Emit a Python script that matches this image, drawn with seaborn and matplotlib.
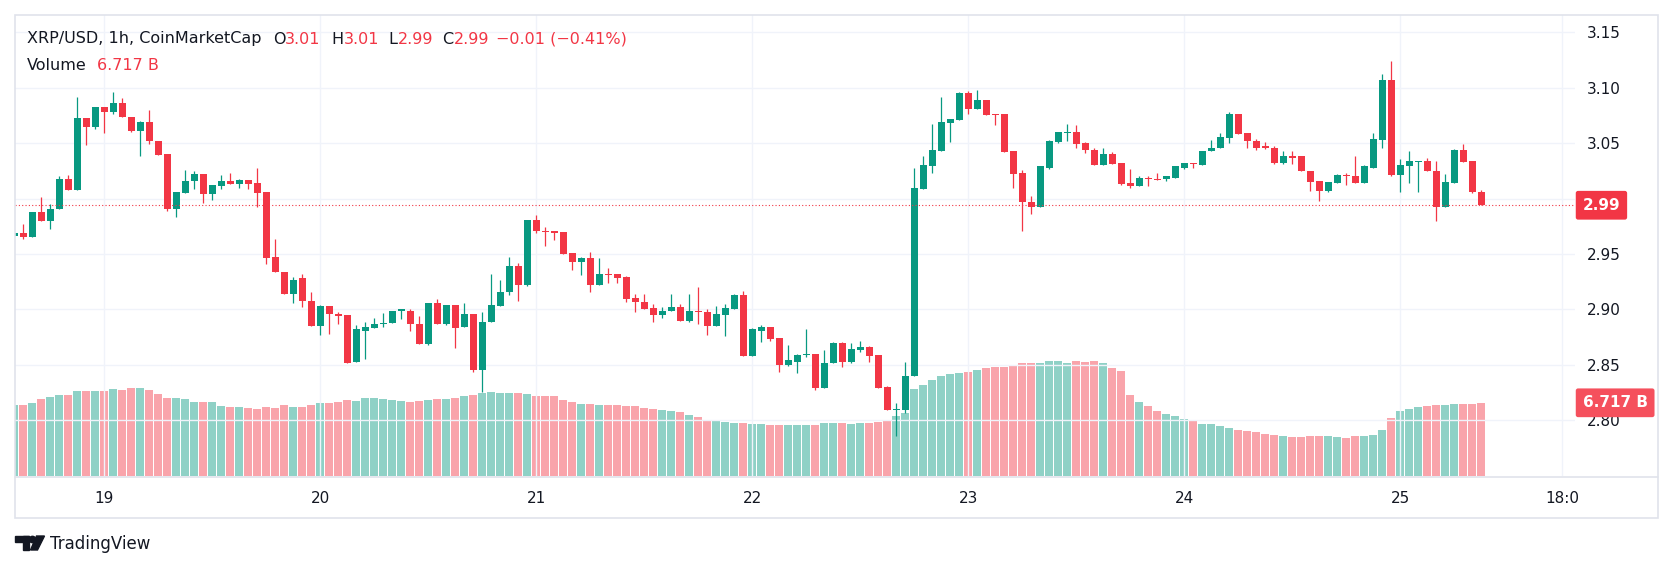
import numpy as np
import pandas as pd
import matplotlib
matplotlib.use("Agg")
import matplotlib.pyplot as plt
import matplotlib.patches as mpatches
import matplotlib.transforms as mtransforms
import seaborn as sns

# hours relative to 19th 00:00, one candle per hour (XRP/USD 1h)
hours = list(range(-10, 154))

opens = [2.966, 2.969, 2.965, 2.988, 2.980, 2.991, 3.018, 3.008, 3.073, 3.065,
         3.083, 3.078, 3.086, 3.074, 3.061, 3.069, 3.052, 3.040, 2.991, 3.005,
         3.016, 3.022, 3.004, 3.011, 3.016, 3.013, 3.017, 3.014, 3.006, 2.947,
         2.934, 2.914, 2.928, 2.908, 2.885, 2.903, 2.896, 2.895, 2.853, 2.881,
         2.883, 2.887, 2.888, 2.899, 2.899, 2.887, 2.869, 2.906, 2.887, 2.904,
         2.884, 2.896, 2.845, 2.889, 2.903, 2.916, 2.939, 2.922, 2.981, 2.971,
         2.971, 2.970, 2.951, 2.943, 2.946, 2.922, 2.932, 2.932, 2.929, 2.910,
         2.907, 2.901, 2.895, 2.899, 2.902, 2.890, 2.899, 2.898, 2.885, 2.895,
         2.900, 2.913, 2.858, 2.881, 2.884, 2.874, 2.850, 2.853, 2.859, 2.860,
         2.829, 2.852, 2.870, 2.853, 2.863, 2.866, 2.859, 2.830, 2.809, 2.809,
         2.840, 3.009, 3.029, 3.043, 3.068, 3.071, 3.095, 3.081, 3.089, 3.076,
         3.076, 3.043, 3.023, 2.997, 2.992, 3.028, 3.051, 3.059, 3.060, 3.050,
         3.044, 3.030, 3.040, 3.032, 3.014, 3.011, 3.019, 3.018, 3.018, 3.019,
         3.028, 3.032, 3.030, 3.043, 3.046, 3.055, 3.076, 3.059, 3.052, 3.047,
         3.046, 3.032, 3.038, 3.038, 3.025, 3.016, 3.007, 3.014, 3.021, 3.020,
         3.014, 3.028, 3.053, 3.107, 3.021, 3.029, 3.033, 3.034, 3.025, 2.992,
         3.014, 3.044, 3.034, 3.006]
highs = [2.970, 2.977, 2.988, 3.001, 2.995, 3.020, 3.021, 3.092, 3.073, 3.083,
         3.083, 3.096, 3.091, 3.074, 3.070, 3.080, 3.052, 3.040, 3.006, 3.026,
         3.025, 3.022, 3.012, 3.021, 3.023, 3.018, 3.017, 3.028, 3.006, 2.964,
         2.934, 2.929, 2.932, 2.916, 2.904, 2.903, 2.898, 2.895, 2.886, 2.889,
         2.892, 2.897, 2.899, 2.900, 2.900, 2.894, 2.906, 2.909, 2.904, 2.904,
         2.906, 2.896, 2.898, 2.932, 2.927, 2.947, 2.942, 2.981, 2.985, 2.974,
         2.971, 2.970, 2.951, 2.947, 2.952, 2.946, 2.937, 2.932, 2.930, 2.914,
         2.914, 2.905, 2.902, 2.914, 2.905, 2.914, 2.920, 2.900, 2.903, 2.905,
         2.914, 2.917, 2.883, 2.886, 2.884, 2.874, 2.868, 2.860, 2.882, 2.860,
         2.863, 2.871, 2.871, 2.870, 2.872, 2.867, 2.859, 2.831, 2.816, 2.853,
         3.028, 3.038, 3.067, 3.092, 3.072, 3.096, 3.097, 3.098, 3.089, 3.076,
         3.076, 3.043, 3.026, 3.002, 3.029, 3.053, 3.060, 3.067, 3.066, 3.051,
         3.046, 3.046, 3.042, 3.032, 3.027, 3.020, 3.020, 3.023, 3.020, 3.029,
         3.032, 3.032, 3.043, 3.053, 3.059, 3.078, 3.076, 3.059, 3.054, 3.051,
         3.047, 3.043, 3.043, 3.038, 3.025, 3.016, 3.015, 3.022, 3.023, 3.038,
         3.030, 3.059, 3.112, 3.124, 3.036, 3.043, 3.034, 3.037, 3.034, 3.022,
         3.045, 3.049, 3.034, 3.008]
lows = [2.966, 2.964, 2.965, 2.980, 2.973, 2.991, 3.008, 3.008, 3.048, 3.063,
        3.059, 3.076, 3.074, 3.060, 3.038, 3.049, 3.039, 2.989, 2.983, 3.005,
        3.009, 2.996, 2.999, 3.009, 3.013, 3.010, 3.009, 2.992, 2.941, 2.934,
        2.914, 2.906, 2.902, 2.885, 2.877, 2.878, 2.887, 2.852, 2.853, 2.855,
        2.883, 2.884, 2.888, 2.891, 2.881, 2.869, 2.868, 2.887, 2.886, 2.865,
        2.884, 2.844, 2.826, 2.889, 2.903, 2.913, 2.908, 2.921, 2.969, 2.957,
        2.963, 2.950, 2.936, 2.931, 2.916, 2.922, 2.924, 2.924, 2.907, 2.898,
        2.900, 2.889, 2.892, 2.899, 2.890, 2.889, 2.887, 2.877, 2.885, 2.876,
        2.900, 2.858, 2.858, 2.871, 2.872, 2.844, 2.849, 2.843, 2.857, 2.827,
        2.829, 2.852, 2.848, 2.852, 2.862, 2.853, 2.829, 2.809, 2.786, 2.807,
        2.840, 3.009, 3.023, 3.043, 3.051, 3.071, 3.076, 3.081, 3.075, 3.066,
        3.042, 3.010, 2.971, 2.986, 2.992, 3.027, 3.050, 3.052, 3.046, 3.041,
        3.030, 3.030, 3.031, 3.012, 3.010, 3.011, 3.011, 3.017, 3.016, 3.019,
        3.027, 3.028, 3.030, 3.043, 3.046, 3.050, 3.058, 3.046, 3.044, 3.045,
        3.031, 3.031, 3.031, 3.025, 3.007, 2.998, 3.006, 3.014, 3.012, 3.014,
        3.014, 3.028, 3.046, 3.020, 3.006, 3.014, 3.006, 3.025, 2.980, 2.992,
        3.014, 3.033, 3.005, 2.994]
closes = [2.969, 2.965, 2.988, 2.980, 2.991, 3.018, 3.008, 3.073, 3.065, 3.083,
          3.078, 3.086, 3.074, 3.061, 3.069, 3.052, 3.039, 2.991, 3.006, 3.016,
          3.022, 3.004, 3.012, 3.016, 3.013, 3.017, 3.013, 3.005, 2.946, 2.934,
          2.914, 2.927, 2.908, 2.885, 2.903, 2.896, 2.894, 2.852, 2.882, 2.884,
          2.887, 2.888, 2.899, 2.900, 2.887, 2.869, 2.906, 2.887, 2.904, 2.883,
          2.896, 2.845, 2.889, 2.904, 2.916, 2.939, 2.922, 2.981, 2.971, 2.970,
          2.969, 2.950, 2.943, 2.946, 2.922, 2.932, 2.931, 2.928, 2.909, 2.907,
          2.900, 2.895, 2.899, 2.902, 2.890, 2.899, 2.898, 2.885, 2.896, 2.901,
          2.913, 2.858, 2.882, 2.884, 2.873, 2.850, 2.854, 2.859, 2.860, 2.829,
          2.852, 2.870, 2.853, 2.864, 2.866, 2.858, 2.829, 2.809, 2.810, 2.840,
          3.010, 3.030, 3.044, 3.069, 3.072, 3.095, 3.081, 3.089, 3.075, 3.075,
          3.042, 3.022, 2.997, 2.992, 3.029, 3.052, 3.060, 3.060, 3.049, 3.044,
          3.030, 3.040, 3.031, 3.013, 3.011, 3.019, 3.018, 3.017, 3.020, 3.029,
          3.032, 3.031, 3.043, 3.046, 3.056, 3.076, 3.058, 3.052, 3.046, 3.046,
          3.032, 3.038, 3.037, 3.025, 3.015, 3.007, 3.015, 3.021, 3.020, 3.014,
          3.029, 3.054, 3.107, 3.021, 3.030, 3.034, 3.034, 3.025, 2.992, 3.015,
          3.044, 3.033, 3.006, 2.994]

# volume in billions
volume_b = [6.505, 6.505, 6.688, 7.055, 7.238, 7.421, 7.421, 7.788, 7.788, 7.788,
            7.788, 7.971, 7.879, 8.063, 8.063, 7.879, 7.513, 7.146, 7.146, 7.055,
            6.780, 6.780, 6.780, 6.413, 6.322, 6.322, 6.230, 6.139, 6.322, 6.230,
            6.505, 6.322, 6.322, 6.505, 6.688, 6.688, 6.780, 6.963, 6.872, 7.146,
            7.146, 7.055, 6.963, 6.872, 6.780, 6.872, 6.963, 7.055, 7.055, 7.146,
            7.330, 7.421, 7.604, 7.696, 7.604, 7.604, 7.604, 7.513, 7.330, 7.330,
            7.330, 6.963, 6.780, 6.597, 6.597, 6.505, 6.505, 6.505, 6.413, 6.413,
            6.230, 6.139, 6.047, 5.955, 5.864, 5.589, 5.406, 5.131, 5.039, 4.947,
            4.856, 4.856, 4.764, 4.764, 4.673, 4.673, 4.673, 4.673, 4.673, 4.673,
            4.856, 4.856, 4.856, 4.764, 4.856, 4.856, 4.947, 5.131, 5.497, 5.772,
            7.971, 8.337, 8.796, 9.162, 9.345, 9.437, 9.528, 9.712, 9.895, 9.986,
            9.986, 10.170, 10.353, 10.353, 10.353, 10.536, 10.536, 10.353, 10.536, 10.445,
            10.536, 10.353, 9.895, 9.620, 7.421, 6.780, 6.413, 5.955, 5.680, 5.497,
            5.222, 5.039, 4.764, 4.764, 4.581, 4.398, 4.215, 4.123, 4.031, 3.848,
            3.756, 3.665, 3.573, 3.573, 3.665, 3.665, 3.665, 3.573, 3.482, 3.665,
            3.665, 3.756, 4.215, 5.314, 5.955, 6.139, 6.322, 6.413, 6.505, 6.505,
            6.597, 6.597, 6.597, 6.717]

day_ticks = [0, 24, 48, 72, 96, 120, 144, 162]
day_labels = ["19", "20", "21", "22", "23", "24", "25", "18:0"]
price_ticks = [2.80, 2.85, 2.90, 2.95, 3.00, 3.05, 3.10, 3.15]
price_labels = ["2.80", "2.85", "2.90", "2.95", "", "3.05", "3.10", "3.15"]

GREEN = "#089981"
RED = "#F23645"
DARK = "#131722"
GRID = "#F0F3FA"
BORDER = "#E0E3EB"

sns.set_theme(style="white")
plt.rcParams["font.family"] = ["DejaVu Sans"]

W, H = 1674, 571


def fx(px):
    return px / W


def fy(py):
    return 1 - py / H


df = pd.DataFrame({"hour": hours, "open": opens, "high": highs,
                   "low": lows, "close": closes, "volume": volume_b})
df["dir"] = np.where(df["close"] >= df["open"], "up", "down")
colors = np.where(df["dir"] == "up", GREEN, RED)

fig = plt.figure(figsize=(W / 100, H / 100), dpi=100)
fig.patch.set_facecolor("white")

# plot area: x 15..1575 px, y 15..476 px (from top)
pos = [fx(15), fy(476), fx(1575) - fx(15), fy(15) - fy(476)]

# volume pane (behind)
axv = fig.add_axes(pos)
sns.barplot(data=df, x="hour", y="volume", hue="dir",
            palette={"up": GREEN, "down": RED}, native_scale=True,
            width=0.86, dodge=False, errorbar=None, saturation=1,
            alpha=0.45, linewidth=0, legend=False, ax=axv)
axv.set_xlim(-9.92, 163.41)
axv.set_ylim(0, 42.3)
axv.set_axis_off()

# price pane (front)
ax = fig.add_axes(pos)
ax.set_facecolor("none")
ax.vlines(df["hour"], df["low"], df["high"], colors=colors, linewidth=0.9, zorder=3)
body_low = np.minimum(df["open"], df["close"])
body_h = np.maximum((df["close"] - df["open"]).abs(), 0.0009)
ax.bar(df["hour"], body_h, bottom=body_low, width=0.78, color=colors,
       linewidth=0, zorder=4)

# last price line
last = closes[-1]
ax.axhline(last, color=RED, linestyle=(0, (1, 2)), linewidth=0.8, zorder=5)

ax.set_xlim(-9.92, 163.41)
ax.set_ylim(2.7498, 3.1656)
ax.set_xticks(day_ticks)
ax.set_xticklabels(day_labels)
ax.set_yticks(price_ticks)
ax.set_yticklabels(price_labels)
ax.yaxis.tick_right()
ax.tick_params(axis="y", length=0, pad=8.5, labelsize=11, labelcolor=DARK)
ax.tick_params(axis="x", length=0, pad=11, labelsize=11, labelcolor=DARK)
ax.grid(True, color=GRID, linewidth=1)
ax.set_axisbelow(True)
for s in ax.spines.values():
    s.set_visible(False)
ax.set_xlabel("")
ax.set_ylabel("")

# price / volume markers on the scale
tr_price = mtransforms.blended_transform_factory(ax.transAxes, ax.transData)
ax.annotate("2.99", xy=(1.0, last), xycoords=tr_price, xytext=(5.5, 0),
            textcoords="offset points", ha="left", va="center", color="white",
            fontsize=11, fontweight="bold", zorder=10, annotation_clip=False,
            bbox=dict(boxstyle="round,pad=0.45,rounding_size=0.15", fc=RED, ec="none"))
tr_vol = mtransforms.blended_transform_factory(ax.transAxes, axv.transData)
ax.annotate("6.717 B", xy=(1.0, volume_b[-1]), xycoords=tr_vol, xytext=(5.5, 0),
            textcoords="offset points", ha="left", va="center", color="white",
            fontsize=11, fontweight="bold", zorder=10, annotation_clip=False,
            bbox=dict(boxstyle="round,pad=0.45,rounding_size=0.15", fc="#F5505D", ec="none"))

# chart frame
fig.add_artist(mpatches.Rectangle((fx(15), fy(518)), fx(1658) - fx(15), fy(15) - fy(518),
                                  transform=fig.transFigure, fill=False,
                                  edgecolor=BORDER, linewidth=1.2))
fig.add_artist(plt.Line2D([fx(15), fx(1658)], [fy(476.5), fy(476.5)],
                          transform=fig.transFigure, color=BORDER, linewidth=1.2))

# legend header
header = [("XRP/USD, 1h, CoinMarketCap", 27, DARK), ("O", 273, DARK), ("3.01", 285, RED),
          ("H", 331, DARK), ("3.01", 344, RED), ("L", 388, DARK), ("2.99", 398, RED),
          ("C", 442, DARK), ("2.99", 454, RED), ("\u22120.01 (\u22120.41%)", 496, RED)]
for txt, x, c in header:
    fig.text(fx(x), fy(39), txt, color=c, fontsize=11.5, ha="left", va="center")
fig.text(fx(27), fy(65), "Volume", color=DARK, fontsize=11.5, ha="left", va="center")
fig.text(fx(97), fy(65), "6.717 B", color=RED, fontsize=11.5, ha="left", va="center")

# TradingView mark (pixel coordinates, origin bottom-left)
px = mtransforms.IdentityTransform()
logo = [
    mpatches.Rectangle((15, H - 542), 13.5, 6, color=DARK, transform=px),
    mpatches.Rectangle((22.5, H - 550), 6, 14, color=DARK, transform=px),
    mpatches.Circle((32.5, H - 539.5), 3.2, color=DARK, transform=px),
    mpatches.Polygon([(36.5, H - 536), (44.5, H - 536), (37.5, H - 550), (30.5, H - 550)],
                     closed=True, color=DARK, transform=px),
]
for p in logo:
    fig.add_artist(p)
fig.text(fx(50), fy(544), "TradingView", color=DARK, fontsize=12,
         ha="left", va="center")

fig.savefig("out.png", dpi=100, facecolor="white")
